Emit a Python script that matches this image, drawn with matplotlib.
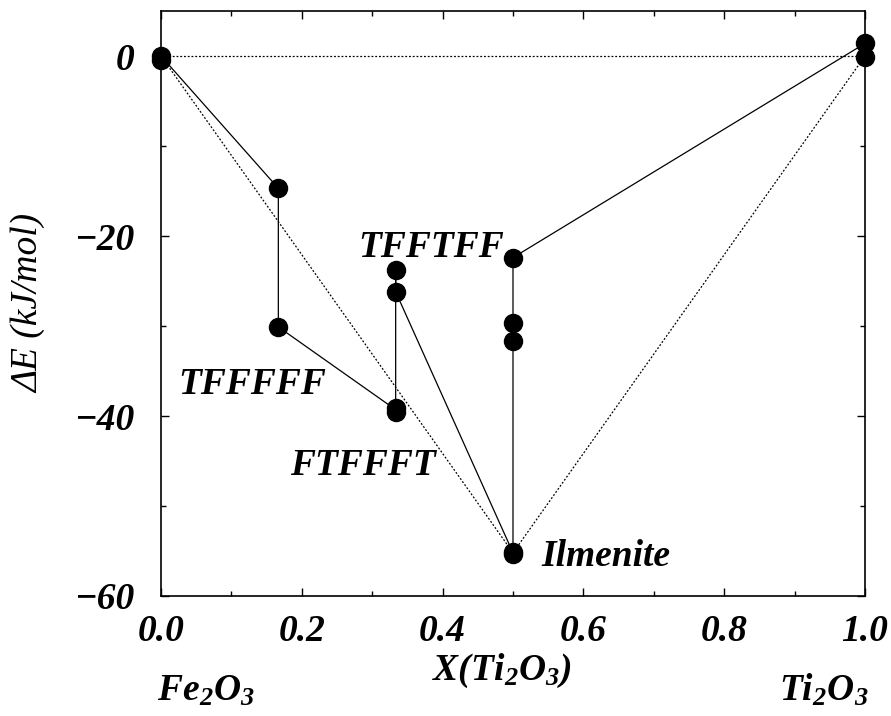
import numpy as np
import matplotlib
matplotlib.use("Agg")
import matplotlib.pyplot as plt
from matplotlib.ticker import MultipleLocator, FormatStrFormatter

plt.rcParams["font.family"] = "Liberation Serif"
plt.rcParams["font.weight"] = "bold"
plt.rcParams["font.style"] = "italic"
plt.rcParams["mathtext.fontset"] = "custom"
plt.rcParams["mathtext.rm"] = "Liberation Serif:italic:bold"
plt.rcParams["mathtext.it"] = "Liberation Serif:italic:bold"
plt.rcParams["mathtext.bf"] = "Liberation Serif:italic:bold"
plt.rcParams["axes.unicode_minus"] = True

# computed structures: composition X(Ti2O3) and formation energy (kJ/mol)
x_pts = [0.0, 0.0, 1/6, 1/6, 1/3, 1/3, 1/3, 1/3, 0.5, 0.5, 0.5, 0.5, 0.5, 1.0, 1.0]
e_pts = [0.0, -0.4, -14.7, -30.1, -23.8, -26.2, -39.1, -39.5,
         -22.4, -29.7, -31.7, -55.1, -55.3, 1.4, -0.1]

# solid path connecting the structures
path_x = [0.0, 1/6, 1/6, 1/3, 1/3, 1/3, 0.5, 0.5, 1.0]
path_e = [0.0, -14.7, -30.1, -39.3, -23.8, -26.2, -55.2, -22.4, 1.4]

# dotted reference lines (end-member line and convex hull)
ref_x = [0.0, 1.0]
ref_e = [0.0, 0.0]
hull_x = [0.0, 0.5, 1.0]
hull_e = [0.0, -55.2, 0.0]

labels = ["TFFFFF", "FTFFFT", "TFFTFF", "Ilmenite"]
label_x = [0.025, 0.183, 0.280, 0.540]
label_e = [-37.6, -46.6, -22.3, -56.7]

fig = plt.figure(figsize=(8.91, 7.16), dpi=100)
ax = fig.add_axes([0.1807, 0.1676, 0.7901, 0.817])

ax.plot(ref_x, ref_e, color="black", ls=(0, (1.5, 1.5)), lw=0.9)
ax.plot(hull_x, hull_e, color="black", ls=(0, (1.5, 1.5)), lw=0.9)
ax.plot(path_x, path_e, color="black", lw=0.9)
ax.plot(x_pts, e_pts, "o", color="black", ms=13, ls="none", clip_on=False, zorder=5)

fs = 27
for t, lx, le in zip(labels, label_x, label_e):
    ax.text(lx, le, t, fontsize=fs, ha="left", va="baseline")

ax.set_xlim(0, 1)
ax.set_ylim(-60, 5)
ax.xaxis.set_major_locator(MultipleLocator(0.2))
ax.xaxis.set_minor_locator(MultipleLocator(0.1))
ax.yaxis.set_major_locator(MultipleLocator(20))
ax.yaxis.set_minor_locator(MultipleLocator(10))
ax.xaxis.set_major_formatter(FormatStrFormatter("%.1f"))
ax.tick_params(which="both", direction="in", top=True, right=True, labelsize=fs)
ax.tick_params(which="major", length=6, width=1)
ax.tick_params(which="minor", length=3.6, width=1)
ax.tick_params(axis="x", pad=13)
ax.tick_params(axis="y", pad=19)
for s in ax.spines.values():
    s.set_linewidth(1.2)

ax.set_ylabel("ΔE (kJ/mol)", fontsize=fs, labelpad=20)
fig.text(0.563, 0.05, "X(Ti$_2$O$_3$)", fontsize=fs, ha="center", va="baseline")
fig.text(0.231, 0.022, "Fe$_2$O$_3$", fontsize=fs, ha="center", va="baseline")
fig.text(0.925, 0.022, "Ti$_2$O$_3$", fontsize=fs, ha="center", va="baseline")

fig.savefig("out.png", dpi=100)
